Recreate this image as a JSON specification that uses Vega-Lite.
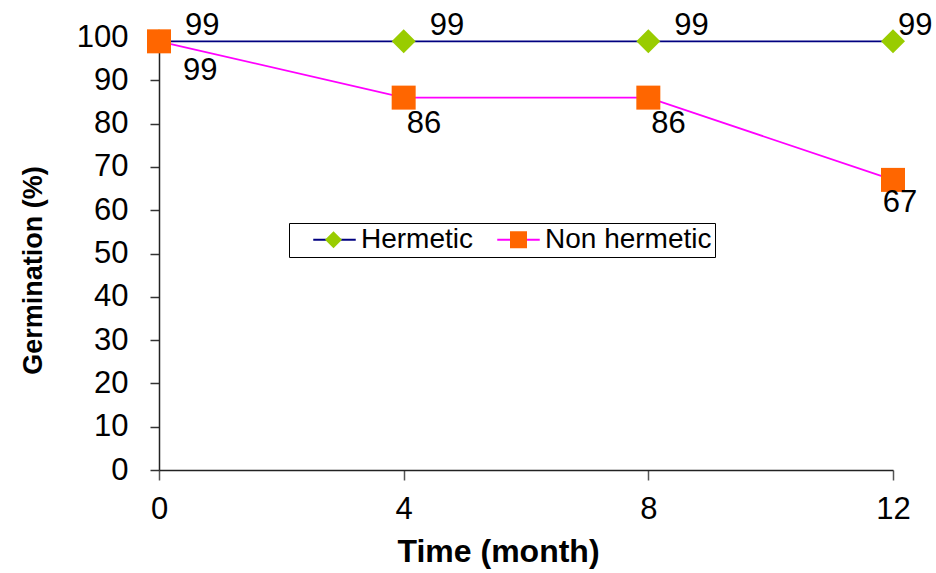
{
  "$schema": "https://vega.github.io/schema/vega-lite/v6.json",
  "width": 734,
  "height": 433,
  "autosize": {"type": "none"},
  "padding": {"left": 159, "top": 37, "right": 43, "bottom": 103},
  "background": "white",
  "config": {"view": {"stroke": null}, "font": "Liberation Sans"},
  "data": {
    "values": [
      {"time": 0, "series": "Hermetic", "germination": 99},
      {"time": 4, "series": "Hermetic", "germination": 99},
      {"time": 8, "series": "Hermetic", "germination": 99},
      {"time": 12, "series": "Hermetic", "germination": 99},
      {"time": 0, "series": "Non hermetic", "germination": 99},
      {"time": 4, "series": "Non hermetic", "germination": 86},
      {"time": 8, "series": "Non hermetic", "germination": 86},
      {"time": 12, "series": "Non hermetic", "germination": 67}
    ]
  },
  "encoding": {
    "x": {
      "field": "time",
      "type": "quantitative",
      "scale": {"domain": [0, 12], "nice": false, "zero": false},
      "axis": {
        "values": [0, 4, 8, 12],
        "grid": false,
        "title": "Time (month)",
        "labelFont": "Liberation Sans",
        "labelFontSize": 31,
        "labelColor": "black",
        "labelPadding": 14,
        "labelFlush": false,
        "tickSize": 10,
        "tickWidth": 1.5,
        "tickColor": "#555555",
        "domainColor": "#222222",
        "domainWidth": 1.5,
        "titleFont": "Liberation Sans",
        "titleFontSize": 32,
        "titleFontWeight": "bold",
        "titleColor": "black",
        "titleAlign": "center",
        "titleBaseline": "alphabetic",
        "titleX": 339,
        "titleY": 91
      }
    },
    "y": {
      "field": "germination",
      "type": "quantitative",
      "scale": {"domain": [0, 100], "nice": false},
      "axis": {
        "values": [0, 10, 20, 30, 40, 50, 60, 70, 80, 90, 100],
        "grid": false,
        "title": "Germination  (%)",
        "labelFont": "Liberation Sans",
        "labelFontSize": 31,
        "labelColor": "black",
        "labelPadding": 22,
        "labelFlush": false,
        "tickSize": 9,
        "tickWidth": 1.5,
        "tickColor": "#333333",
        "domainColor": "#222222",
        "domainWidth": 1.5,
        "titleFont": "Liberation Sans",
        "titleFontSize": 27,
        "titleFontWeight": "bold",
        "titleColor": "black",
        "titleAngle": 270,
        "titleAlign": "center",
        "titleBaseline": "alphabetic",
        "titleX": -118,
        "titleY": 233
      }
    }
  },
  "layer": [
    {
      "mark": {"type": "line", "strokeWidth": 1.8},
      "encoding": {
        "color": {
          "field": "series",
          "type": "nominal",
          "scale": {"domain": ["Hermetic", "Non hermetic"], "range": ["#000080", "#FF00FF"]},
          "legend": {
            "title": null,
            "orient": "none",
            "legendX": 130,
            "legendY": 186,
            "direction": "horizontal",
            "labelFont": "Liberation Sans",
            "labelFontSize": 28,
            "labelColor": "black",
            "labelLimit": 300,
            "labelExpr": "datum.label === 'Non hermetic' ? datum.label + '\u2002\u2009' : datum.label",
            "labelOffset": 4,
            "symbolOffset": 20,
            "columnPadding": 2,
            "padding": 3,
            "clipHeight": 27,
            "strokeColor": "black",
            "fillColor": "white",
            "symbolType": "M-1,0H1",
            "symbolSize": 1806,
            "symbolStrokeWidth": 1.8
          }
        }
      }
    },
    {
      "mark": {"type": "point", "filled": true, "size": 3600, "opacity": 1},
      "encoding": {
        "fill": {
          "field": "series",
          "type": "nominal",
          "scale": {"domain": ["Non hermetic", "Hermetic"], "range": ["#FF6600", "#99CC00"]},
          "legend": {
            "values": ["Hermetic", "Non hermetic"],
            "title": null,
            "orient": "none",
            "legendX": 130,
            "legendY": 186,
            "direction": "horizontal",
            "labelFontSize": 28,
            "labelExpr": "''",
            "labelOffset": 4,
            "symbolOffset": 20,
            "columnPadding": 118,
            "padding": 3,
            "clipHeight": 27,
            "symbolSize": 1806,
            "symbolStrokeWidth": 0,
            "symbolOpacity": 1
          }
        },
        "shape": {
          "field": "series",
          "type": "nominal",
          "scale": {
            "domain": ["Non hermetic", "Hermetic"],
            "range": ["M-1,0M1,0M-0.4,-0.4H0.4V0.4H-0.4Z", "M-1,0M1,0M-0.4,0L0,-0.4L0.4,0L0,0.4Z"]
          },
          "legend": {
            "values": ["Hermetic", "Non hermetic"],
            "title": null,
            "orient": "none",
            "legendX": 130,
            "legendY": 186,
            "direction": "horizontal",
            "labelFontSize": 28,
            "labelExpr": "''",
            "labelOffset": 4,
            "symbolOffset": 20,
            "columnPadding": 118,
            "padding": 3,
            "clipHeight": 27,
            "symbolSize": 1806,
            "symbolStrokeWidth": 0,
            "symbolOpacity": 1
          }
        }
      }
    },
    {
      "transform": [{"filter": "datum.series === 'Hermetic' && datum.time < 12"}],
      "mark": {"type": "text", "align": "left", "baseline": "alphabetic", "dx": 26, "dy": -6, "fontSize": 31, "font": "Liberation Sans", "color": "black"},
      "encoding": {"text": {"field": "germination", "type": "quantitative"}}
    },
    {
      "transform": [{"filter": "datum.series === 'Hermetic' && datum.time === 12"}],
      "mark": {"type": "text", "align": "left", "baseline": "alphabetic", "dx": 5, "dy": -6, "fontSize": 31, "font": "Liberation Sans", "color": "black"},
      "encoding": {"text": {"field": "germination", "type": "quantitative"}}
    },
    {
      "transform": [{"filter": "datum.series === 'Non hermetic' && datum.time === 0"}],
      "mark": {"type": "text", "align": "left", "baseline": "alphabetic", "dx": 24, "dy": 39, "fontSize": 31, "font": "Liberation Sans", "color": "black"},
      "encoding": {"text": {"field": "germination", "type": "quantitative"}}
    },
    {
      "transform": [{"filter": "datum.series === 'Non hermetic' && (datum.time === 4 || datum.time === 8)"}],
      "mark": {"type": "text", "align": "left", "baseline": "alphabetic", "dx": 3, "dy": 35, "fontSize": 31, "font": "Liberation Sans", "color": "black"},
      "encoding": {"text": {"field": "germination", "type": "quantitative"}}
    },
    {
      "transform": [{"filter": "datum.series === 'Non hermetic' && datum.time === 12"}],
      "mark": {"type": "text", "align": "center", "baseline": "alphabetic", "dx": 7, "dy": 32, "fontSize": 31, "font": "Liberation Sans", "color": "black"},
      "encoding": {"text": {"field": "germination", "type": "quantitative"}}
    }
  ]
}
